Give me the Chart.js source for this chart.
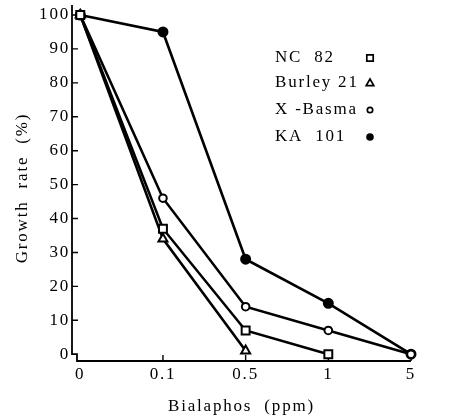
<!DOCTYPE html>
<html><head><meta charset="utf-8">
<script src="https://cdn.jsdelivr.net/npm/chart.js@4/dist/chart.umd.min.js"></script>
<style>html,body{margin:0;padding:0;background:#fff}canvas{display:block}</style>
</head><body>
<canvas id="c" width="468" height="416"></canvas>
<script>
// ---- data ----
const categories = ['0', '0.1', '0.5', '1', '5'];
const nc82      = [100, 37, 7, 0, null];
const burley21  = [100, 34, 1, null, null];
const xBasma    = [100, 46, 14, 7, 0];
const ka101     = [100, 95, 28, 15, 0];
const yTicks    = [0, 10, 20, 30, 40, 50, 60, 70, 80, 90, 100];
const seriesNames = ['NC  82', 'Burley 21', 'X -Basma', 'KA  101'];

const FONT = '"Liberation Serif", "Times New Roman", serif';
const FSIZE = 17;
const LS = '1.8px';
const toPts = arr => arr.map((v, i) => ({x: i, y: v})).filter(p => p.y !== null);

const styles = [
  {pointStyle: 'rect', radius: 5.6, fill: '#fff'},
  {pointStyle: 'triangle', radius: 5.2, fill: '#fff'},
  {pointStyle: 'circle', radius: 3.8, fill: '#fff'},
  {pointStyle: 'circle', radius: 4.5, fill: '#000'}
];
const seriesData = [nc82, burley21, xBasma, ka101];

const datasets = seriesData.map((d, k) => ({
  label: seriesNames[k],
  data: toPts(d),
  borderColor: '#000',
  borderWidth: 2.6,
  pointStyle: styles[k].pointStyle,
  pointRadius: styles[k].radius,
  pointBackgroundColor: styles[k].fill,
  pointBorderColor: '#000',
  pointBorderWidth: 2,
  tension: 0,
  clip: false
}));

const spacing = {
  id: 'spacing',
  beforeLayout(chart) { chart.ctx.letterSpacing = LS; },
  beforeDraw(chart) { chart.ctx.letterSpacing = LS; }
};

const axesPlugin = {
  id: 'axesPlugin',
  beforeDatasetsDraw(chart) {
    const {ctx, chartArea: a, scales: {x, y}} = chart;
    const y0 = y.getPixelForValue(0);
    ctx.save();
    ctx.strokeStyle = '#000';
    ctx.lineWidth = 1.8;
    ctx.beginPath();
    ctx.moveTo(a.left, a.top - 10);
    ctx.lineTo(a.left, y0);
    ctx.lineTo(a.left + 5, y0);
    ctx.lineTo(a.left + 5, a.bottom);
    ctx.lineTo(a.right, a.bottom);
    ctx.stroke();
    ctx.lineWidth = 1.4;
    ctx.beginPath();
    y.ticks.forEach(t => {
      if (t.value === 0) return;
      const py = y.getPixelForValue(t.value);
      ctx.moveTo(a.left, py);
      ctx.lineTo(a.left + 6, py);
    });
    x.ticks.forEach(t => {
      if (t.value === 0) return;
      const px = x.getPixelForValue(t.value);
      ctx.moveTo(px, a.bottom);
      ctx.lineTo(px, a.bottom - 6);
    });
    ctx.stroke();
    ctx.restore();
  },
  afterDraw(chart) {
    const ctx = chart.ctx;
    const legendY = [58, 83, 110, 137];
    ctx.save();
    ctx.letterSpacing = LS;
    ctx.font = FSIZE + 'px ' + FONT;
    ctx.fillStyle = '#000';
    ctx.textBaseline = 'middle';
    ctx.textAlign = 'left';
    seriesNames.forEach((n, k) => {
      ctx.fillText(n, 275, legendY[k]);
      const mx = 370, my = legendY[k];
      ctx.beginPath();
      ctx.lineWidth = 1.7;
      ctx.strokeStyle = '#000';
      const st = styles[k];
      if (st.pointStyle === 'rect') {
        ctx.rect(mx - 3.2, my - 3.2, 6.4, 6.4);
        ctx.stroke();
      } else if (st.pointStyle === 'triangle') {
        ctx.moveTo(mx, my - 4);
        ctx.lineTo(mx + 3.8, my + 2.6);
        ctx.lineTo(mx - 3.8, my + 2.6);
        ctx.closePath();
        ctx.stroke();
      } else if (st.fill === '#fff') {
        ctx.arc(mx, my, 2.7, 0, Math.PI * 2);
        ctx.stroke();
      } else {
        ctx.arc(mx, my, 3.8, 0, Math.PI * 2);
        ctx.fillStyle = '#000';
        ctx.fill();
      }
    });
    ctx.restore();
  }
};

new Chart(document.getElementById('c'), {
  type: 'line',
  data: {datasets},
  options: {
    responsive: false,
    animation: false,
    events: [],
    layout: {padding: {top: 15, right: 57, bottom: 0, left: 0}},
    plugins: {legend: {display: false}, tooltip: {enabled: false}},
    scales: {
      x: {
        type: 'linear',
        min: -0.1,
        max: 4,
        afterBuildTicks: s => { s.ticks = categories.map((c, i) => ({value: i})); },
        afterFit: s => { s.height = 55; },
        grid: {display: false, drawTicks: false},
        border: {display: false},
        ticks: {
          color: '#000',
          font: {family: FONT, size: FSIZE},
          padding: 3,
          maxRotation: 0,
          autoSkip: false,
          callback: v => categories[v]
        },
        title: {display: true, text: 'Bialaphos  (ppm)', color: '#000',
                font: {family: FONT, size: FSIZE}, padding: {top: 0, bottom: -1}}
      },
      y: {
        type: 'linear',
        min: -2,
        max: 100,
        afterBuildTicks: s => { s.ticks = yTicks.map(v => ({value: v})); },
        afterFit: s => { s.width = 72; },
        grid: {display: false, drawTicks: false},
        border: {display: false},
        ticks: {
          color: '#000',
          font: {family: FONT, size: FSIZE},
          padding: 2,
          autoSkip: false
        },
        title: {display: true, text: 'Growth  rate  (%)', color: '#000',
                font: {family: FONT, size: FSIZE}, padding: {top: 12, bottom: 0}}
      }
    }
  },
  plugins: [spacing, axesPlugin]
});
</script>
</body></html>
